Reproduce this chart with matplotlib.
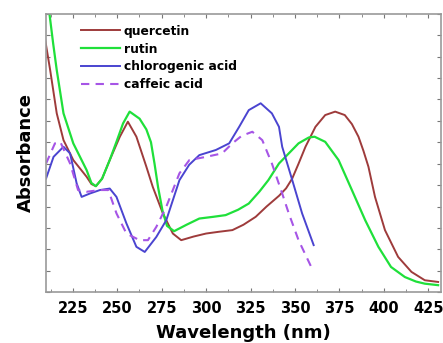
import matplotlib
matplotlib.use('Agg')
import matplotlib.pyplot as plt
from matplotlib.ticker import MultipleLocator, NullFormatter

# values (absorbance in arbitrary units)
quercetin_nm = [209.5, 212.3, 216, 219.8, 225.3, 232.8, 235.5, 238, 241.5, 245.8, 251.5, 256,
                260.8, 266.4, 270, 275.7, 281.3, 286, 293, 300, 307, 314.8, 321, 327.9, 334,
                341, 345, 348.4, 352, 355.9, 361.5, 367, 372.6, 378, 382, 385.7, 388.5,
                391.3, 395, 400.6, 408, 415.5, 423, 430.5]
quercetin_abs = [11.78, 10.37, 8.35, 7.1, 6.17, 5.39, 5.05, 4.95, 5.3, 6.17, 7.26, 7.96,
                 7.26, 5.86, 4.92, 3.68, 2.74, 2.43, 2.6, 2.74, 2.82, 2.9, 3.15, 3.52, 4.0,
                 4.5, 4.85, 5.3, 6.0, 6.79, 7.72, 8.27, 8.43, 8.27, 7.85, 7.26, 6.6,
                 5.86, 4.45, 2.9, 1.65, 0.95, 0.56, 0.48]

rutin_nm = [211.9, 214, 216, 219.8, 225.3, 232.8, 235.5, 238, 241.5, 245.8, 249.5, 253.3,
            257, 262.6, 266.4, 269, 271, 273, 275.5, 278, 282, 289, 296.2, 304, 311, 318,
            324, 330, 335, 341, 346.5, 352, 357.7, 361, 367, 374.5, 382, 389.5, 396.9, 404,
            411.8, 418, 423, 430.5]
rutin_abs = [13.0, 11.6, 10.37, 8.35, 6.95, 5.7, 5.1, 4.95, 5.3, 6.17, 7.0, 7.88,
             8.43, 8.1, 7.6, 7.0, 6.0, 4.9, 3.8, 3.1, 2.85, 3.15, 3.44, 3.52, 3.6, 3.85,
             4.14, 4.7, 5.23, 6.01, 6.48, 6.95, 7.22, 7.26, 7.02, 6.17, 4.77, 3.36, 2.12,
             1.18, 0.71, 0.5, 0.4, 0.33]

chlorogenic_nm = [210, 214.2, 219.8, 223.5, 227.2, 230, 234.7, 240.3, 245.8, 249.6, 255.2,
                  260.8, 265.5, 272, 277.6, 285, 290.5, 296.2, 305.5, 313, 318.6, 324,
                  330.7, 337, 341, 342.8, 348.4, 354, 360.5]
chlorogenic_abs = [5.31, 6.32, 6.79, 6.48, 5.08, 4.45, 4.61, 4.77, 4.84, 4.45, 3.21,
                   2.12, 1.88, 2.58, 3.36, 5.23, 5.95, 6.4, 6.64, 6.95, 7.72, 8.5,
                   8.82, 8.35, 7.72, 6.79, 5.25, 3.68, 2.2]

caffeic_nm = [210, 215, 218, 223.5, 228, 232.8, 240.3, 245, 249.6, 255.2, 262.6, 267.3,
              272, 277.6, 285, 290.6, 300, 309, 314.8, 320, 326, 331.6, 337, 342.8,
              346.5, 352, 359.6]
caffeic_abs = [6.01, 6.95, 7.02, 6.01, 4.77, 4.69, 4.77, 4.77, 3.68, 2.74, 2.43, 2.43,
               3.05, 3.99, 5.55, 6.17, 6.32, 6.48, 6.95, 7.3, 7.49, 7.1, 6.01, 4.61,
               3.68, 2.43, 1.1]

xticks = [225, 250, 275, 300, 325, 350, 375, 400, 425]

fig, ax = plt.subplots(figsize=(4.43, 3.43), dpi=100)
fig.subplots_adjust(left=0.104, right=0.995, top=0.96, bottom=0.148)

ax.plot(quercetin_nm, quercetin_abs, color='#9e3b3b', lw=1.4, label='quercetin')
ax.plot(rutin_nm, rutin_abs, color='#1fe03a', lw=1.6, label='rutin')
ax.plot(chlorogenic_nm, chlorogenic_abs, color='#4a44d0', lw=1.4, label='chlorogenic acid')
ax.plot(caffeic_nm, caffeic_abs, color='#a655e6', lw=1.5, ls=(0, (4, 3)), label='caffeic acid')

ax.set_xlim(210, 432)
ax.set_ylim(0, 13)
ax.set_xticks(xticks)
ax.xaxis.set_minor_locator(MultipleLocator(12.5))
ax.yaxis.set_major_locator(MultipleLocator(1))
ax.yaxis.set_major_formatter(NullFormatter())
ax.tick_params(which='both', direction='in', top=True, right=True, color='#777777')
ax.tick_params(which='major', length=3, labelsize=10.5, pad=6)
ax.tick_params(which='minor', length=2)
for lab in ax.get_xticklabels():
    lab.set_fontweight('bold')
for sp in ax.spines.values():
    sp.set_color('#999999')
    sp.set_linewidth(1.2)

ax.set_xlabel('Wavelength (nm)', fontsize=13, fontweight='bold', labelpad=6)
ax.set_ylabel('Absorbance', fontsize=13, fontweight='bold', labelpad=2)

leg = ax.legend(loc='upper left', bbox_to_anchor=(0.06, 1.0), frameon=False,
                prop={'weight': 'bold', 'size': 8.8}, handlelength=3.2,
                handletextpad=0.3, labelspacing=0.4)

plt.savefig('out.png', dpi=100)
plt.close()
